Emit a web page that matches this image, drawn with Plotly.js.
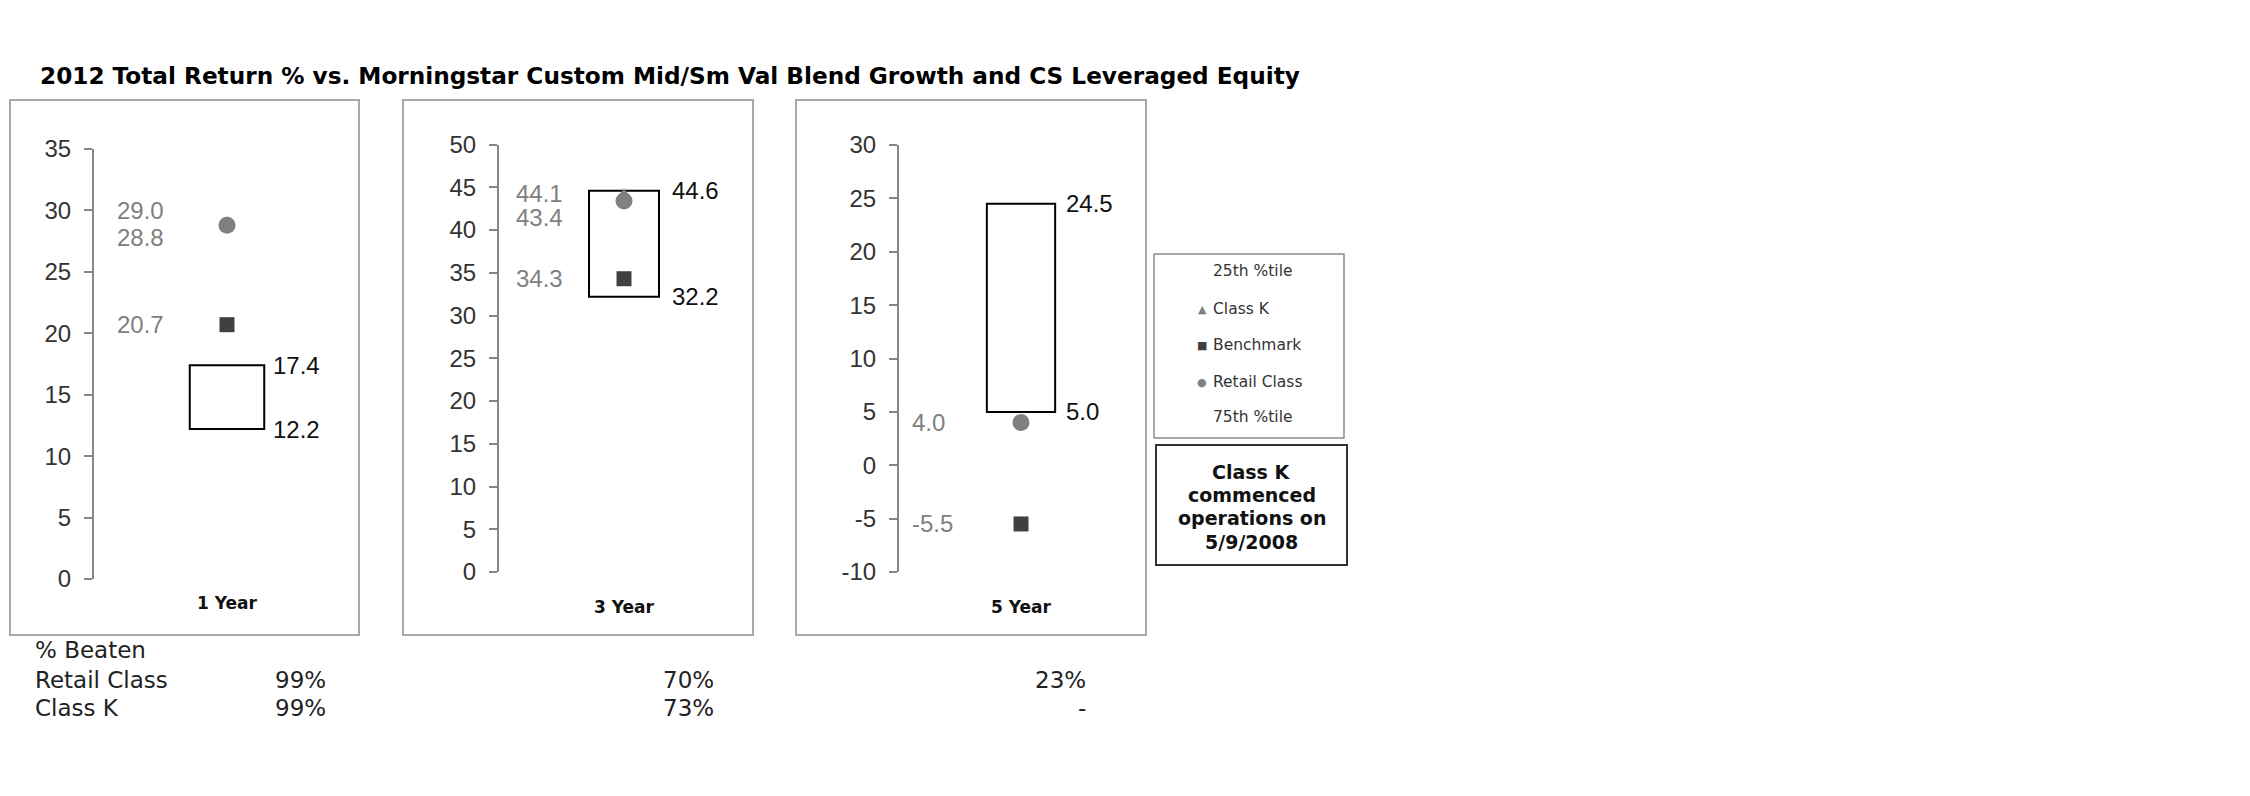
<!DOCTYPE html>
<html>
<head>
<meta charset="utf-8">
<script src="https://cdn.plot.ly/plotly-3.0.1.min.js"></script>
<style>html,body{margin:0;padding:0;background:#fff;}#chart{width:2250px;height:796px;}</style>
</head>
<body>
<div id="chart"></div>
<script>
// ---- data ----
var categories = ['1 Year', '3 Year', '5 Year'];
var pct25 = [17.4, 44.6, 24.5];      // 25th %tile (top of box)
var pct75 = [12.2, 32.2, 5.0];       // 75th %tile (bottom of box)
var classK = [29.0, 44.1, null];
var benchmark = [20.7, 34.3, -5.5];
var retailClass = [28.8, 43.4, 4.0];
var yTicks1 = [0, 5, 10, 15, 20, 25, 30, 35];
var yTicks3 = [0, 5, 10, 15, 20, 25, 30, 35, 40, 45, 50];
var yTicks5 = [-10, -5, 0, 5, 10, 15, 20, 25, 30];
var beatenLabels = ['Retail Class', 'Class K'];
var beatenRetail = ['99%', '70%', '23%'];
var beatenClassK = ['99%', '73%', '-'];
var legendNames = ['25th %tile', 'Class K', 'Benchmark', 'Retail Class', '75th %tile'];
var noteLines = ['Class K', 'commenced', 'operations on', '5/9/2008'];
var titleText = '2012 Total Return % vs. Morningstar Custom Mid/Sm Val Blend Growth and CS Leveraged Equity';

// ---- layout helpers (pixels -> paper) ----
var W = 2250, H = 796;
function px(x) { return x / W; }
function py(y) { return 1 - y / H; }

var GRAY = '#808080', DARK = '#404040';
var NUMFONT = 'Liberation Sans, Arial, sans-serif';
var VFONT = 'DejaVu Sans, Verdana, sans-serif';
var yTickSets = [yTicks1, yTicks3, yTicks5];

// panel geometry (pixels)
var panels = [
  {box: [10, 359], xDom: [94, 360], yDom: [149, 579], leftX: 0.083, rightX: 0.669, kShift: 12, rShift: -12, catY: 603},
  {box: [403, 753], xDom: [499, 749], yDom: [144.5, 572], leftX: 0.064, rightX: 0.686, kShift: 1, rShift: -17, catY: 607},
  {box: [796, 1146], xDom: [899, 1143], yDom: [145, 572], leftX: 0.049, rightX: 0.680, kShift: 0, rShift: 0, catY: 607}
];

var traces = [];
var layout = {
  width: W, height: H,
  margin: {l: 0, r: 0, t: 0, b: 0, pad: 0},
  paper_bgcolor: '#ffffff', plot_bgcolor: 'rgba(0,0,0,0)',
  showlegend: false,
  title: {
    text: '<b>' + titleText + '</b>',
    x: px(40), xanchor: 'left', xref: 'paper',
    y: py(76), yanchor: 'middle', yref: 'paper',
    font: {family: VFONT, size: 23.2, color: '#000'}
  },
  shapes: [], annotations: []
};

categories.forEach(function (cat, i) {
  var p = panels[i];
  var sfx = i === 0 ? '' : String(i + 1);
  var xa = 'x' + sfx, ya = 'y' + sfx;
  var tv = yTickSets[i];
  layout['xaxis' + sfx] = {
    domain: [px(p.xDom[0]), px(p.xDom[1])], range: [0, 1], anchor: ya,
    showgrid: false, zeroline: false, showline: false, showticklabels: false, ticks: '', fixedrange: true
  };
  layout['yaxis' + sfx] = {
    domain: [py(p.yDom[1]), py(p.yDom[0])], range: [tv[0], tv[tv.length - 1]], anchor: xa,
    tickmode: 'array', tickvals: tv, ticktext: tv.map(function (v) { return String(v); }),
    showgrid: false, zeroline: false,
    showline: true, linecolor: '#868686', linewidth: 2,
    ticks: 'outside', ticklen: 8, tickwidth: 2, tickcolor: '#868686',
    ticklabelstandoff: 8,
    tickfont: {family: NUMFONT, size: 24, color: '#333333'}, fixedrange: true
  };
  // panel frame
  layout.shapes.push({type: 'rect', xref: 'paper', yref: 'paper',
    x0: px(p.box[0]), x1: px(p.box[1]), y0: py(635), y1: py(100),
    line: {color: '#a9a9a9', width: 2}, fillcolor: 'rgba(0,0,0,0)', layer: 'below'});

  // quartile box (bar from 75th to 25th)
  traces.push({type: 'bar', xaxis: xa, yaxis: ya, x: [0.5], y: [pct25[i] - pct75[i]], base: [pct75[i]],
    width: 0.28, marker: {color: '#ffffff', line: {color: '#000000', width: 2}}, name: '25th-75th %tile', hoverinfo: 'skip'});
  if (classK[i] !== null) {
    traces.push({type: 'scatter', mode: 'markers', xaxis: xa, yaxis: ya, x: [0.5], y: [classK[i]], name: 'Class K',
      marker: {symbol: 'triangle-up', size: 13, color: GRAY}});
  }
  traces.push({type: 'scatter', mode: 'markers', xaxis: xa, yaxis: ya, x: [0.5], y: [benchmark[i]], name: 'Benchmark',
    marker: {symbol: 'square', size: 15, color: DARK}});
  traces.push({type: 'scatter', mode: 'markers', xaxis: xa, yaxis: ya, x: [0.5], y: [retailClass[i]], name: 'Retail Class',
    marker: {symbol: 'circle', size: 17, color: GRAY}});

  // value labels
  function lab(xv, yv, color, shift) {
    layout.annotations.push({xref: xa, yref: ya, x: xv, y: yv, text: yv.toFixed(1), showarrow: false,
      xanchor: 'left', yanchor: 'middle', yshift: shift || 0, borderpad: 0,
      font: {family: NUMFONT, size: 24, color: color}});
  }
  if (classK[i] !== null) lab(p.leftX, classK[i], GRAY, p.kShift);
  lab(p.leftX, retailClass[i], GRAY, p.rShift);
  lab(p.leftX, benchmark[i], GRAY, 0);
  lab(p.rightX, pct25[i], '#111111', 0);
  lab(p.rightX, pct75[i], '#111111', 0);

  // category label
  layout.annotations.push({xref: xa, yref: 'paper', x: 0.5, y: py(p.catY), text: '<b>' + cat + '</b>',
    showarrow: false, xanchor: 'center', yanchor: 'middle', font: {family: VFONT, size: 17, color: '#111'}});
});

// legend box
layout.shapes.push({type: 'rect', xref: 'paper', yref: 'paper', x0: px(1154), x1: px(1344), y0: py(438), y1: py(254),
  line: {color: '#8c8c8c', width: 1.5}, fillcolor: '#ffffff'});
var legendRows = [271, 309, 345, 382, 417];
var legendGlyph = ['', '\u25B2', '\u25A0', '\u25CF', ''];
var legendGlyphColor = ['', GRAY, DARK, GRAY, ''];
legendNames.forEach(function (nm, j) {
  layout.annotations.push({xref: 'paper', yref: 'paper', x: px(1211), y: py(legendRows[j]), text: nm,
    showarrow: false, xanchor: 'left', yanchor: 'middle', font: {family: VFONT, size: 15.5, color: '#333'}});
  if (legendGlyph[j]) {
    layout.annotations.push({xref: 'paper', yref: 'paper', x: px(1202), y: py(legendRows[j]), text: legendGlyph[j],
      showarrow: false, xanchor: 'center', yanchor: 'middle', font: {family: VFONT, size: 11, color: legendGlyphColor[j]}});
  }
});

// note box
layout.shapes.push({type: 'rect', xref: 'paper', yref: 'paper', x0: px(1156), x1: px(1347), y0: py(565), y1: py(445),
  line: {color: '#333333', width: 2}, fillcolor: '#ffffff'});
var noteRows = [472, 495, 518, 542];
noteLines.forEach(function (t, j) {
  layout.annotations.push({xref: 'paper', yref: 'paper', x: px(1251.5), y: py(noteRows[j]), text: '<b>' + t + '</b>',
    showarrow: false, xanchor: 'center', yanchor: 'middle', borderpad: 0, font: {family: VFONT, size: 19, color: '#111'}});
});

// % Beaten table
var TFONT = {family: VFONT, size: 23, color: '#222'};
layout.annotations.push({xref: 'paper', yref: 'paper', x: px(34), y: py(650), text: '% Beaten', showarrow: false,
  xanchor: 'left', yanchor: 'middle', borderpad: 0, font: TFONT});
var rowY = [680, 708];
var colRight = [327, 715, 1087];
[beatenRetail, beatenClassK].forEach(function (row, r) {
  layout.annotations.push({xref: 'paper', yref: 'paper', x: px(34), y: py(rowY[r]), text: beatenLabels[r], showarrow: false,
    xanchor: 'left', yanchor: 'middle', borderpad: 0, font: TFONT});
  row.forEach(function (v, c) {
    layout.annotations.push({xref: 'paper', yref: 'paper', x: px(colRight[c]), y: py(rowY[r]), text: v, showarrow: false,
      xanchor: 'right', yanchor: 'middle', borderpad: 0, font: TFONT});
  });
});

Plotly.newPlot('chart', traces, layout, {staticPlot: true, displayModeBar: false});
</script>
</body>
</html>
